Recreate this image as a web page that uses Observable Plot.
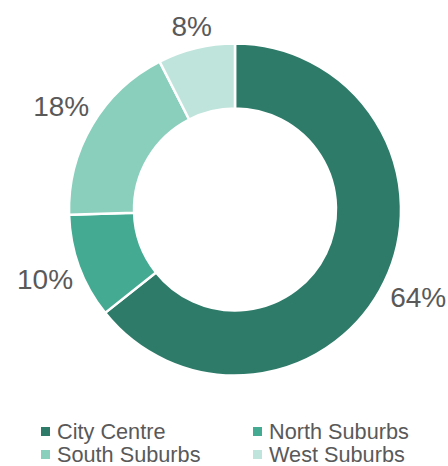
<!DOCTYPE html>
<html>
<head>
<meta charset="utf-8">
<script src="https://cdn.jsdelivr.net/npm/d3@7"></script>
<script src="https://cdn.jsdelivr.net/npm/@observablehq/plot@0.6"></script>
<style>
  html, body { margin: 0; padding: 0; background: #fff; }
  body { width: 448px; height: 466px; overflow: hidden; font-family: "Liberation Sans", Arial, sans-serif; }
  #legend { display: grid; grid-template-columns: 212px 190px; margin-left: 41px; margin-top: 0px; font-size: 21.7px; line-height: 23px; color: #595959; }
  .item { display: flex; align-items: center; white-space: nowrap; }
  .sw { width: 9px; height: 9px; margin-right: 7px; flex: none; }
</style>
</head>
<body>
<div id="chart"></div>
<div id="legend"></div>
<script>
const categories = ["City Centre", "North Suburbs", "South Suburbs", "West Suburbs"];
const shares = [64.3, 10.2, 18.0, 7.5];
const colors = ["#2e7b69", "#44aa92", "#89cfbb", "#bfe4db"];

const W = 448, H = 420;
const cx = 235, cy = 209.5, rOuter = 166, rInner = 101, rLabelBase = 173;
const labelSize = 28;

const data = categories.map((c, i) => ({category: c, value: shares[i], color: colors[i]}));
const pie = d3.pie().sort(null).value(d => d.value);
const arcs = pie(data);
const arcGen = d3.arc().innerRadius(rInner).outerRadius(rOuter);

const labels = arcs.map(a => {
  const m = (a.startAngle + a.endAngle) / 2;
  const text = Math.round(a.data.value) + "%";
  const w = (0.556 * (text.length - 1) + 0.889) * labelSize;
  const h = 0.75 * labelSize;
  const ux = Math.sin(m), uy = -Math.cos(m);
  const r = rLabelBase + Math.abs(ux) * w / 2 + Math.abs(uy) * h / 2;
  return {x: cx + r * ux, y: cy + r * uy, text};
});

const donut = () => {
  const g = d3.create("svg:g").attr("transform", `translate(${cx},${cy})`);
  g.selectAll("path").data(arcs).join("path")
    .attr("d", arcGen)
    .attr("fill", d => d.data.color)
    .attr("stroke", "#fff")
    .attr("stroke-width", 2.5)
    .attr("stroke-linejoin", "round");
  return g.node();
};

const chart = Plot.plot({
  width: W, height: H,
  margin: 0,
  x: {type: "identity", axis: null},
  y: {type: "identity", axis: null},
  style: {background: "#fff", fontFamily: "Liberation Sans, Arial, sans-serif"},
  marks: [
    donut,
    Plot.text(labels, {x: "x", y: "y", text: "text", fontSize: labelSize, fill: "#595959", textAnchor: "middle"})
  ]
});
document.getElementById("chart").appendChild(chart);

const legend = document.getElementById("legend");
data.forEach(d => {
  const it = document.createElement("div");
  it.className = "item";
  const sw = document.createElement("span");
  sw.className = "sw";
  sw.style.background = d.color;
  const t = document.createElement("span");
  t.textContent = d.category;
  it.appendChild(sw); it.appendChild(t);
  legend.appendChild(it);
});
</script>
</body>
</html>
